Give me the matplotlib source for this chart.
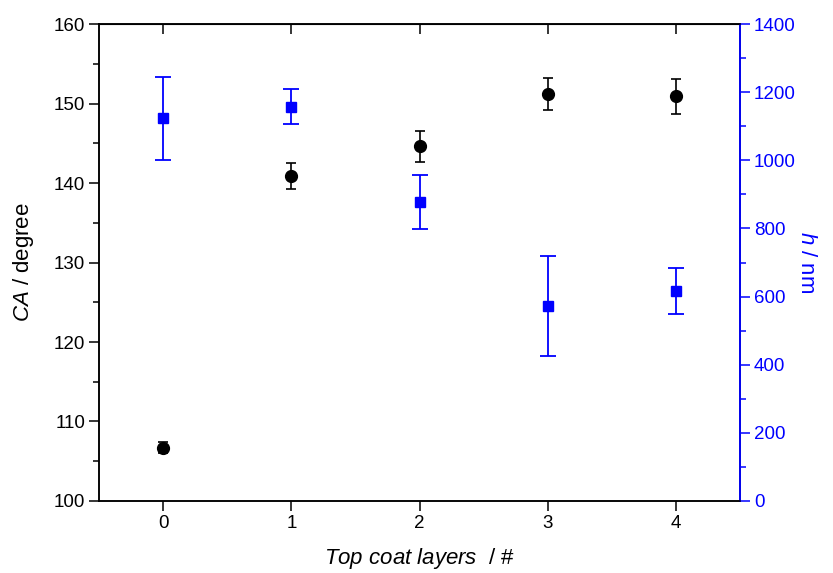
import numpy as np
import matplotlib
matplotlib.use('Agg')
import matplotlib.pyplot as plt
from matplotlib.ticker import MultipleLocator

plt.rcParams['font.family'] = 'Liberation Sans'
plt.rcParams['mathtext.fontset'] = 'custom'
plt.rcParams['mathtext.rm'] = 'Liberation Sans'
plt.rcParams['mathtext.it'] = 'Liberation Sans:italic'

layers = [0, 1, 2, 3, 4]
ca = [106.7, 140.9, 144.6, 151.2, 150.9]
ca_err = [0.7, 1.6, 1.9, 2.0, 2.2]
thickness = [1123, 1157, 877, 572, 616]
thickness_err = [122, 51, 79, 147, 68]

blue = '#0000ff'

fig = plt.figure(figsize=(8.33, 5.73), dpi=100)
ax = fig.add_axes([0.1189, 0.1257, 0.7695, 0.8323])
ax2 = ax.twinx()

ax.errorbar(layers, ca, yerr=ca_err, fmt='o', color='black', ms=8.5,
            capsize=3.6, elinewidth=1.2, capthick=1.2)
ax2.errorbar(layers, thickness, yerr=thickness_err, fmt='s', color=blue, ms=6.5,
             capsize=5.8, elinewidth=1.3, capthick=1.3)

ax.set_xlim(-0.5, 4.5)
ax.set_ylim(100, 160)
ax2.set_ylim(0, 1400)

ax.set_xticks(layers)
ax.yaxis.set_major_locator(MultipleLocator(10))
ax.yaxis.set_minor_locator(MultipleLocator(5))
ax2.yaxis.set_major_locator(MultipleLocator(200))
ax2.yaxis.set_minor_locator(MultipleLocator(100))

ax.tick_params(axis='both', which='major', direction='out', length=7, width=1.1, labelsize=13.5, pad=3)
ax.tick_params(axis='y', which='minor', direction='out', length=4, width=1.1)
ax2.tick_params(axis='y', which='major', direction='out', length=7, width=1.1,
                colors=blue, labelsize=13.5, pad=3)
ax2.tick_params(axis='y', which='minor', direction='out', length=4, width=1.1, colors=blue)

top = ax.secondary_xaxis('top')
top.set_xticks(layers)
top.tick_params(direction='in', length=7, width=1.1, labeltop=False)

for a in (ax, ax2):
    for s in a.spines.values():
        s.set_linewidth(1.1)
ax2.spines['right'].set_color(blue)
ax2.spines['right'].set_linewidth(1.3)

ax.set_xlabel(r'$\mathit{Top\ coat\ layers}$  / #', fontsize=16, labelpad=10)
ax.set_ylabel(r'$\mathit{CA}$ / degree', fontsize=16, labelpad=13)
ax2.set_ylabel(r'$\mathit{h}$ / nm', fontsize=16, color=blue, rotation=270, labelpad=15)

fig.savefig('out.png', dpi=100)
